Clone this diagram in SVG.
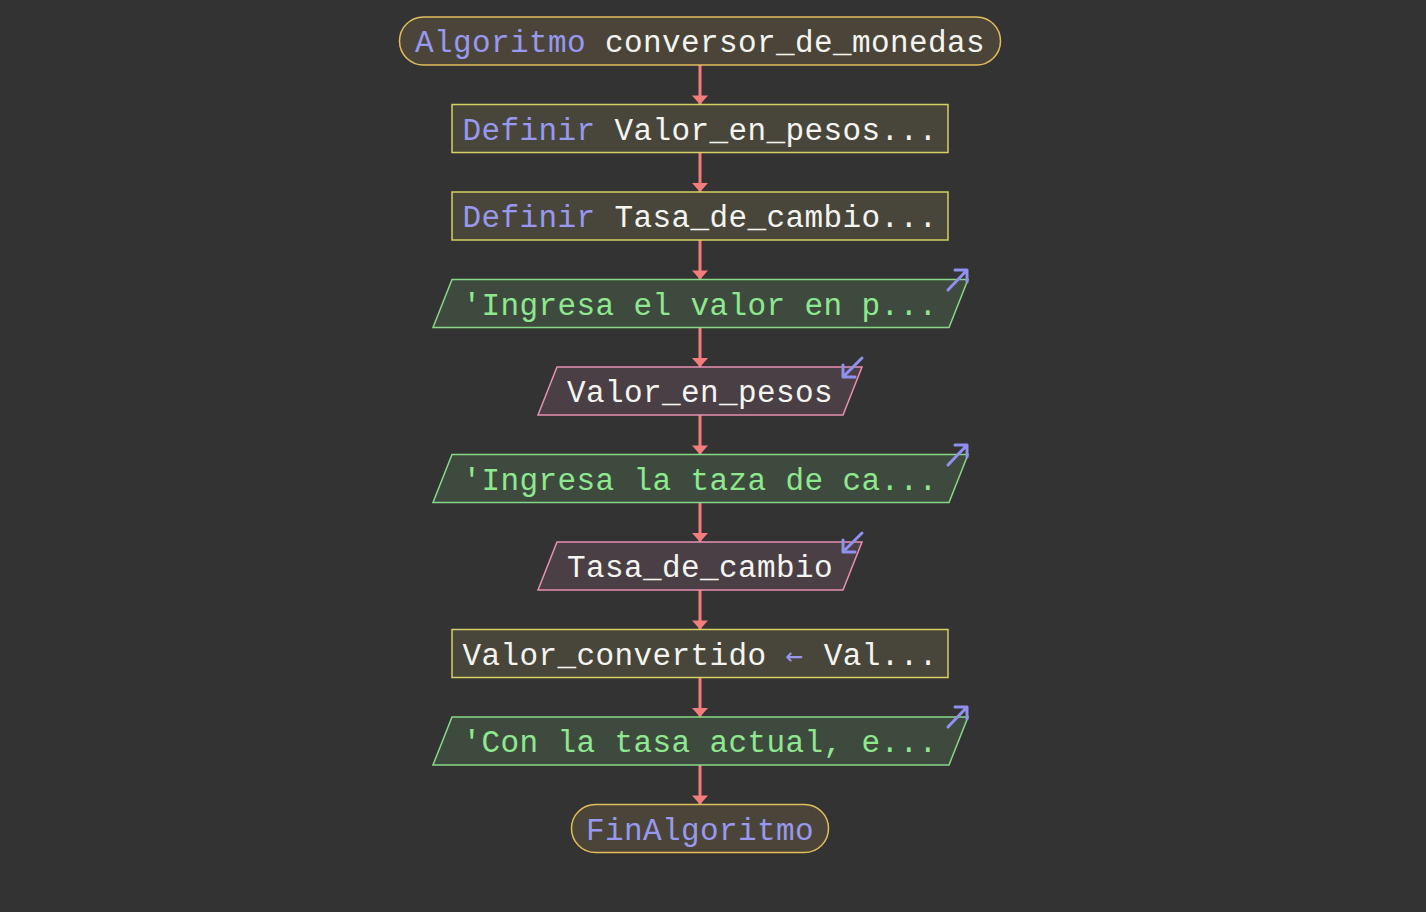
<svg xmlns="http://www.w3.org/2000/svg" width="1426" height="912" viewBox="0 0 1426 912">
<defs>
<style>
text{font-family:"Liberation Mono","DejaVu Sans Mono",monospace;font-size:31px;letter-spacing:0.4px;fill:#f4f4f0}
.kw{fill:#9898f0}
.arr{font-family:"DejaVu Sans Mono",monospace;font-size:29px;letter-spacing:1.6px}
.out{fill:#8ee88e}
.term{fill:#4a4538;stroke:#e2bd5c;stroke-width:1.5}
.proc{fill:#48463a;stroke:#d6cf66;stroke-width:1.5}
.outp{fill:#3f4a3f;stroke:#86d886;stroke-width:1.5}
.inp{fill:#4a3f45;stroke:#e890b2;stroke-width:1.5}
.icon{fill:none;stroke:#9090f0;stroke-width:3;stroke-linecap:round;stroke-linejoin:round}
.conn{stroke:#f47c7c;stroke-width:3;fill:none}
</style>
<marker id="ah" markerUnits="userSpaceOnUse" markerWidth="16" markerHeight="9" refX="8" refY="9" orient="0" overflow="visible">
<path d="M0,0 L16,0 L8,9 z" fill="#f47c7c"/>
</marker>
</defs>
<rect width="1426" height="912" fill="#333333"/>
<g id="connectors">
<line class="conn" x1="700" y1="65" x2="700" y2="104.5" marker-end="url(#ah)"/>
<line class="conn" x1="700" y1="152.5" x2="700" y2="192" marker-end="url(#ah)"/>
<line class="conn" x1="700" y1="240" x2="700" y2="279.5" marker-end="url(#ah)"/>
<line class="conn" x1="700" y1="327.5" x2="700" y2="367" marker-end="url(#ah)"/>
<line class="conn" x1="700" y1="415" x2="700" y2="454.5" marker-end="url(#ah)"/>
<line class="conn" x1="700" y1="502.5" x2="700" y2="542" marker-end="url(#ah)"/>
<line class="conn" x1="700" y1="590" x2="700" y2="629.5" marker-end="url(#ah)"/>
<line class="conn" x1="700" y1="677.5" x2="700" y2="717" marker-end="url(#ah)"/>
<line class="conn" x1="700" y1="765" x2="700" y2="804.5" marker-end="url(#ah)"/>
</g>
<g id="start">
<rect class="term" x="399.5" y="17" width="601" height="48" rx="24"/>
<text x="415" y="52"><tspan class="kw">Algoritmo</tspan> conversor_de_monedas</text>
</g>
<g id="def1">
<rect class="proc" x="452" y="104.5" width="496" height="48"/>
<text x="462.5" y="139.5"><tspan class="kw">Definir</tspan> Valor_en_pesos...</text>
</g>
<g id="def2">
<rect class="proc" x="452" y="192" width="496" height="48"/>
<text x="462.5" y="227"><tspan class="kw">Definir</tspan> Tasa_de_cambio...</text>
</g>
<g id="out1">
<polygon class="outp" points="452,279.5 968,279.5 949,327.5 433,327.5"/>
<text class="out" x="462.5" y="314.5">'Ingresa el valor en p...</text>
<path class="icon" d="M948,290 L967,270 M955,270 L967,270 L967,282"/>
</g>
<g id="in1">
<polygon class="inp" points="557,367 862,367 843,415 538,415"/>
<text x="567" y="402">Valor_en_pesos</text>
<path class="icon" d="M862,358 L843,377 M843,365 L843,377 L855,377"/>
</g>
<g id="out2">
<polygon class="outp" points="452,454.5 968,454.5 949,502.5 433,502.5"/>
<text class="out" x="462.5" y="489.5">'Ingresa la taza de ca...</text>
<path class="icon" d="M948,465 L967,445 M955,445 L967,445 L967,457"/>
</g>
<g id="in2">
<polygon class="inp" points="557,542 862,542 843,590 538,590"/>
<text x="567" y="577">Tasa_de_cambio</text>
<path class="icon" d="M862,533 L843,552 M843,540 L843,552 L855,552"/>
</g>
<g id="assign">
<rect class="proc" x="452" y="629.5" width="496" height="48"/>
<text x="462.5" y="664.5">Valor_convertido <tspan class="kw arr">←</tspan> Val...</text>
</g>
<g id="out3">
<polygon class="outp" points="452,717 968,717 949,765 433,765"/>
<text class="out" x="462.5" y="752">'Con la tasa actual, e...</text>
<path class="icon" d="M948,727 L967,707 M955,707 L967,707 L967,719"/>
</g>
<g id="end">
<rect class="term" x="571.5" y="804.5" width="257" height="48" rx="24"/>
<text class="kw" x="586" y="839.5">FinAlgoritmo</text>
</g>
</svg>
